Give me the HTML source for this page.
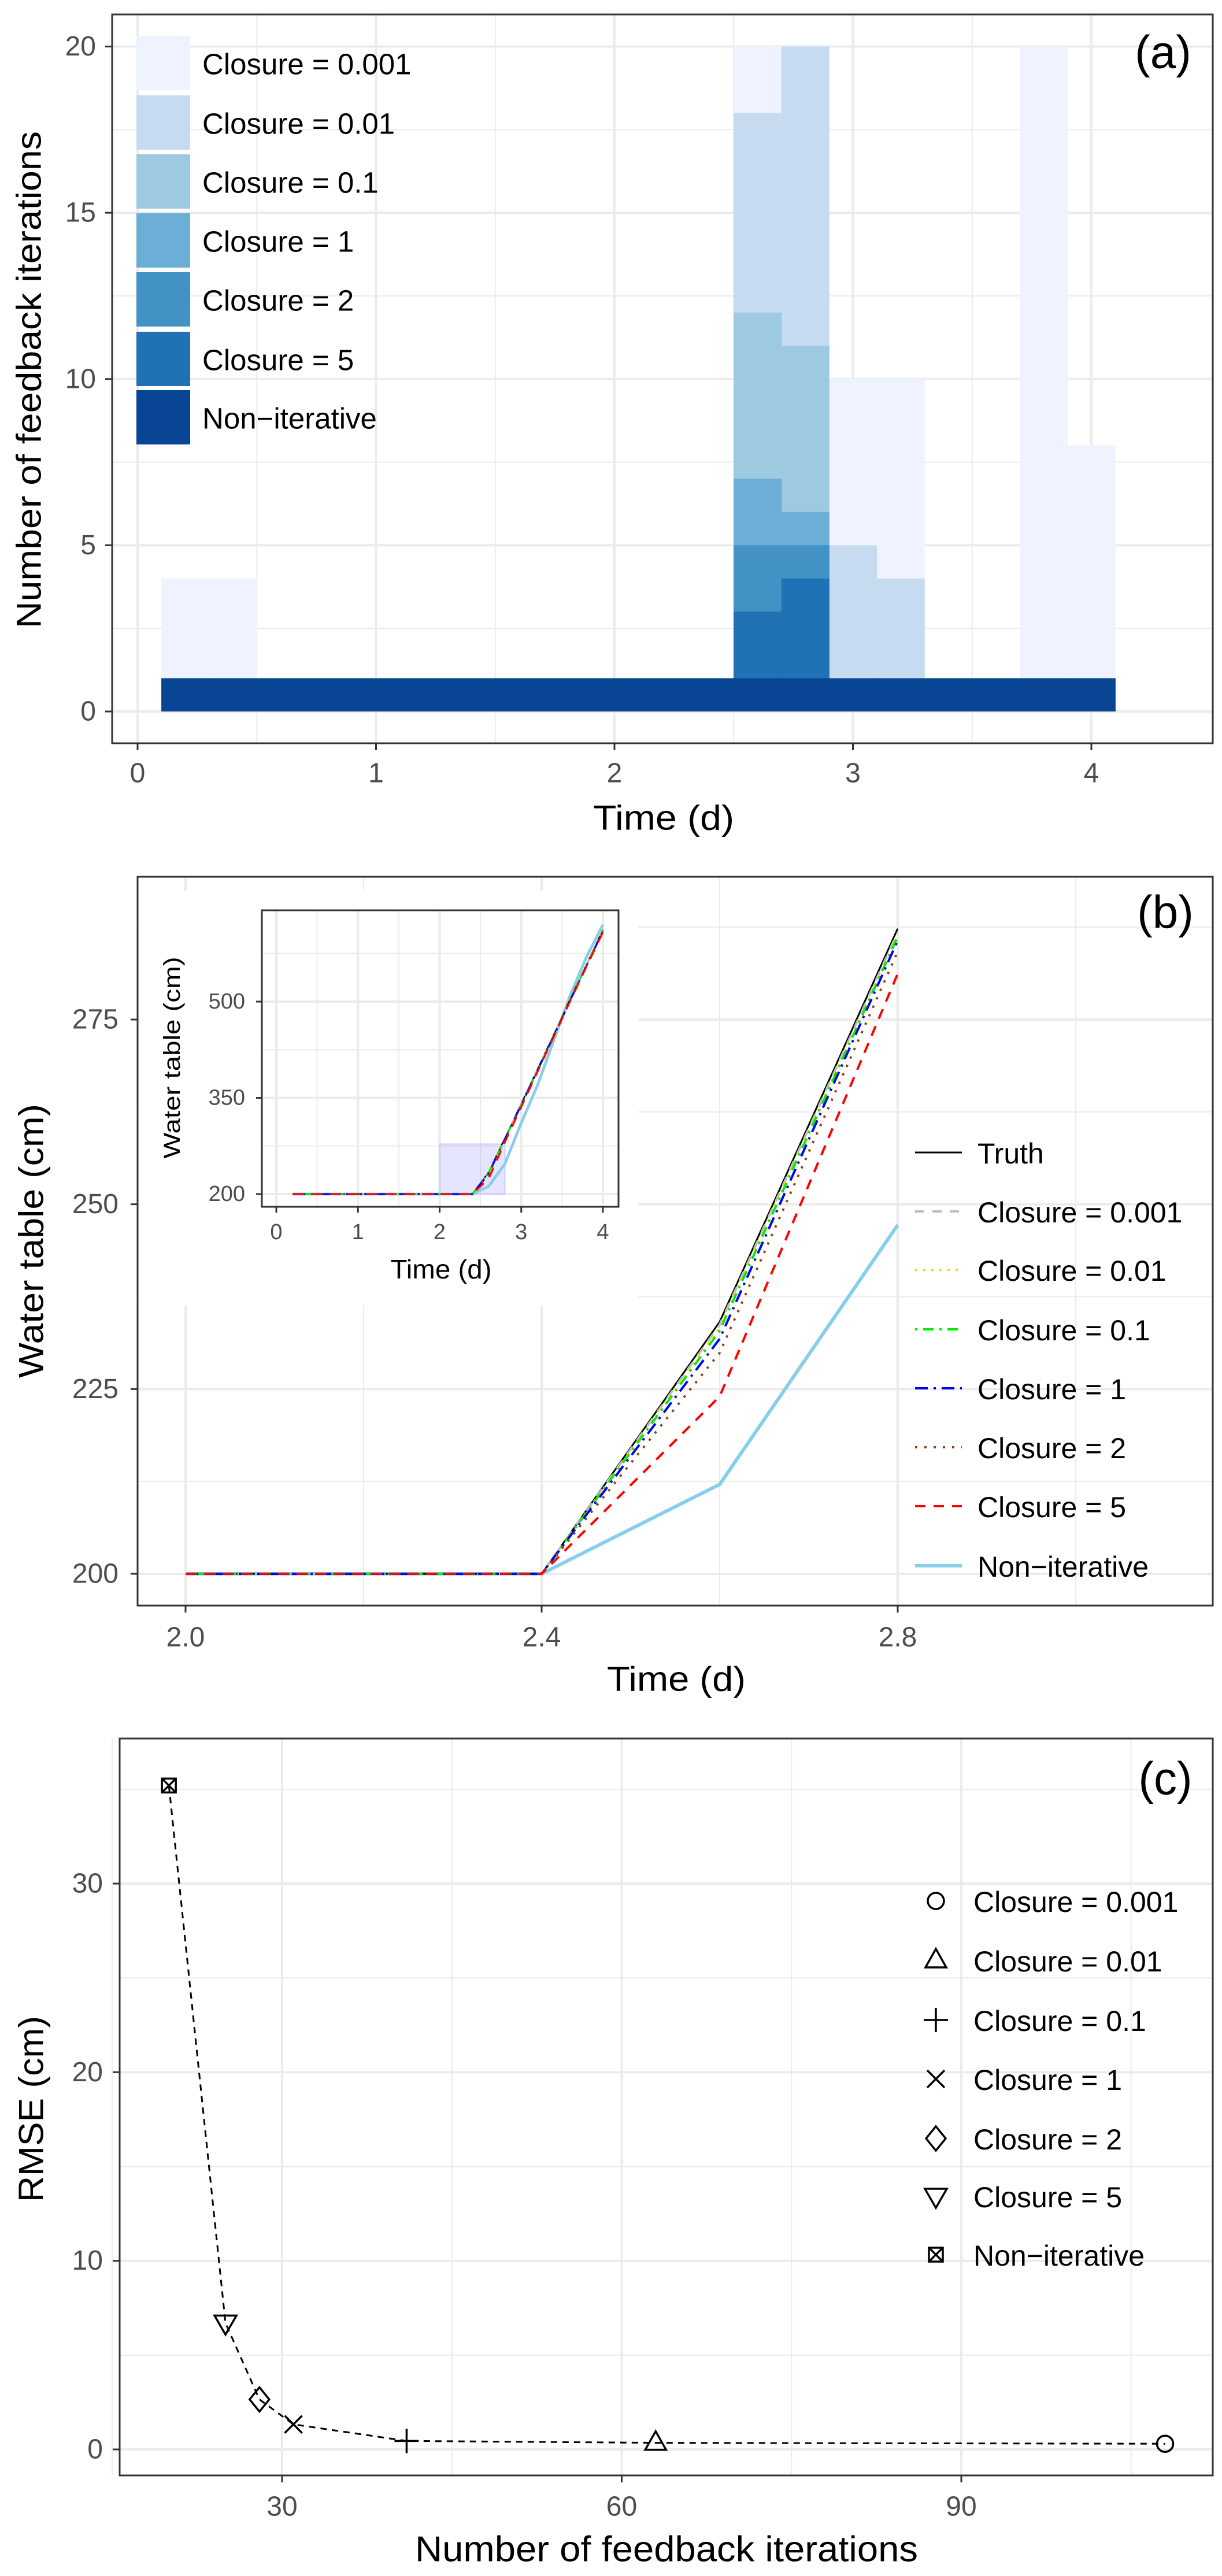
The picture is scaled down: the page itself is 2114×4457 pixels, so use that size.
<!DOCTYPE html>
<html><head><meta charset="utf-8">
<style>
html,body{margin:0;padding:0;background:#fff;}
svg{display:block;font-family:"Liberation Sans",Arial,sans-serif;}
</style></head>
<body>
<svg id="fig" width="2114" height="4457" viewBox="0 0 2114 4457" xmlns="http://www.w3.org/2000/svg"></svg>
<script>
// ---------- Panel (a) data ----------
const binCenters = [0.2,0.4,0.6,0.8,1.0,1.2,1.4,1.6,1.8,2.0,2.2,2.4,2.6,2.8,3.0,3.2,3.4,3.6,3.8,4.0];
const itersC0001 = [4,4,1,1,1,1,1,1,1,1,1,1,20,20,10,10,1,1,20,8];
const itersC001  = [1,1,1,1,1,1,1,1,1,1,1,1,18,20,5,4,1,1,1,1];
const itersC01   = [1,1,1,1,1,1,1,1,1,1,1,1,12,11,1,1,1,1,1,1];
const itersC1    = [1,1,1,1,1,1,1,1,1,1,1,1,7,6,1,1,1,1,1,1];
const itersC2    = [1,1,1,1,1,1,1,1,1,1,1,1,5,5,1,1,1,1,1,1];
const itersC5    = [1,1,1,1,1,1,1,1,1,1,1,1,3,4,1,1,1,1,1,1];
const itersNon   = [1,1,1,1,1,1,1,1,1,1,1,1,1,1,1,1,1,1,1,1];
const aXTicks = [0,1,2,3,4];
const aYTicks = [0,5,10,15,20];
const legendLabels = ["Closure = 0.001","Closure = 0.01","Closure = 0.1","Closure = 1","Closure = 2","Closure = 5","Non\u2212iterative"];

// ---------- Panel (b) data ----------
const times = [0.2,0.4,0.6,0.8,1.0,1.2,1.4,1.6,1.8,2.0,2.2,2.4,2.6,2.8,3.0,3.2,3.4,3.6,3.8,4.0];
const wtTruth = [200,200,200,200,200,200,200,200,200,200,200,200,234.1,287.3,341,395,449,504,558,612];
const wtC0001 = [200,200,200,200,200,200,200,200,200,200,200,200,233.7,286.8,340,394,448,503,557,611];
const wtC001  = [200,200,200,200,200,200,200,200,200,200,200,200,233.3,286.4,340,394,448,503,557,611];
const wtC01   = [200,200,200,200,200,200,200,200,200,200,200,200,232.9,286.2,339,393,448,503,557,610];
const wtC1    = [200,200,200,200,200,200,200,200,200,200,200,200,231.8,285.7,339,393,447,502,556,610];
const wtC2    = [200,200,200,200,200,200,200,200,200,200,200,200,229.9,284.2,338,392,447,502,556,609];
const wtC5    = [200,200,200,200,200,200,200,200,200,200,200,200,224.0,281.2,336,391,446,501,555,608];
const wtNon   = [200,200,200,200,200,200,200,200,200,200,200,200,212.1,247.2,311,370,440,510,570,620];
const bXTicks = [2.0,2.4,2.8];
const bYTicks = [200,225,250,275];
const insetXTicks = [0,1,2,3,4];
const insetYTicks = [200,350,500];

// ---------- Panel (c) data ----------
const rmseIters = [108,63,41,31,28,25,20];
const rmseVals  = [0.3,0.35,0.45,1.33,2.65,6.7,35.2];
const cXTicks = [30,60,90];
const cYTicks = [0,10,20,30];

const NS="http://www.w3.org/2000/svg";
const svg=document.getElementById('fig');
function mk(tag,attrs,parent){const e=document.createElementNS(NS,tag);for(const k in attrs)e.setAttribute(k,attrs[k]);(parent||svg).appendChild(e);return e;}
function nm(e,name){
  
  
}
function txt(s,attrs,parent){const e=mk('text',attrs,parent);e.textContent=s;return e;}
function scale(d0,d1,r0,r1){return v=>r0+(v-d0)/(d1-d0)*(r1-r0);}

function panel(P,name){
  const g=mk('g',{});nm(g,name);
  mk('rect',{x:P.l,y:P.t,width:P.r-P.l,height:P.b-P.t,fill:'#fff'},g);
  return g;
}
function grid(g,P,sx,sy,xMaj,xMin,yMaj,yMin){
  const gg=mk('g',{},g);nm(gg,'grid');
  yMin.forEach(v=>mk('line',{x1:P.l,x2:P.r,y1:sy(v),y2:sy(v),stroke:'#ebebeb','stroke-width':2},gg));
  xMin.forEach(v=>mk('line',{y1:P.t,y2:P.b,x1:sx(v),x2:sx(v),stroke:'#ebebeb','stroke-width':2},gg));
  yMaj.forEach(v=>mk('line',{x1:P.l,x2:P.r,y1:sy(v),y2:sy(v),stroke:'#ebebeb','stroke-width':4},gg));
  xMaj.forEach(v=>mk('line',{y1:P.t,y2:P.b,x1:sx(v),x2:sx(v),stroke:'#ebebeb','stroke-width':4},gg));
}
function axes(g,P,sx,sy,xt,yt,fmtX,fmtY,fs,tl,xLabY,yLabX){
  const ax=mk('g',{},g);nm(ax,'x-axis');
  xt.forEach(v=>{mk('line',{x1:sx(v),x2:sx(v),y1:P.b,y2:P.b+tl,stroke:'#333','stroke-width':3},ax);
    const t=txt(fmtX(v),{x:sx(v),y:xLabY,'font-size':fs,fill:'#4d4d4d','text-anchor':'middle','dominant-baseline':'central'},ax);nm(t,'x-tick-label');});
  const ay=mk('g',{},g);nm(ay,'y-axis');
  yt.forEach(v=>{mk('line',{x1:P.l-tl,x2:P.l,y1:sy(v),y2:sy(v),stroke:'#333','stroke-width':3},ay);
    const t=txt(fmtY(v),{x:yLabX,y:sy(v),'font-size':fs,fill:'#4d4d4d','text-anchor':'end','dominant-baseline':'central'},ay);nm(t,'y-tick-label');});
}
function border(g,P,w){const b=mk('rect',{x:P.l,y:P.t,width:P.r-P.l,height:P.b-P.t,fill:'none',stroke:'#333','stroke-width':w||3},g);nm(b,'panel-border');}
function title(s,x,y,len,fs,rot,parent,name){
  const a={x:0,y:0,'font-size':fs,'text-anchor':'middle','dominant-baseline':'central',textLength:len,lengthAdjust:'spacingAndGlyphs',
    transform:`translate(${x},${y})`+(rot?' rotate(-90)':'')};
  const t=txt(s,a,parent);nm(t,name);return t;
}

// ================= Panel (a) =================
(function(){
  const P={l:194,r:2098,t:25,b:1286};
  const sx=scale(0,4,238,1888), sy=scale(0,20,1231,80.5);
  const g=panel(P,'panel-a');
  grid(g,P,sx,sy,[0,1,2,3,4],[0.5,1.5,2.5,3.5],[0,5,10,15,20],[2.5,7.5,12.5,17.5]);
  const series=[itersC0001,itersC001,itersC01,itersC1,itersC2,itersC5,itersNon];
  const colors=['#eff3ff','#c6dbef','#9ecae1','#6baed6','#4292c6','#2171b5','#084594'];
  const names=['closure-0001','closure-001','closure-01','closure-1','closure-2','closure-5','non-iterative'];
  series.forEach((s,i)=>{
    const sg=mk('g',{},g);nm(sg,'bars-'+names[i]);
    s.forEach((v,j)=>{
      const x0=sx(binCenters[j]-0.1), x1=sx(binCenters[j]+0.1);
      const r=mk('rect',{x:x0,y:sy(v),width:x1-x0+0.5,height:sy(0)-sy(v),fill:colors[i]},sg);
      nm(r,'bar');
    });
  });
  border(g,P);
  axes(g,P,sx,sy,aXTicks,aYTicks,v=>String(v),v=>String(v),48,12,1338,166);
  title('Time (d)',1148,1415,244,60,false,g,'x-axis-title');
  title('Number of feedback iterations',50,657,860,60,true,g,'y-axis-title');
  const pl=txt('(a)',{x:2012,y:90,'font-size':80,'text-anchor':'middle','dominant-baseline':'central'},g);nm(pl,'panel-label');
  const lg=mk('g',{},g);nm(lg,'legend');
  const tops=[62,165,267,369,471,574,675];
  legendLabels.forEach((s,i)=>{
    const k=mk('rect',{x:236,y:tops[i],width:93,height:94,fill:colors[i]},lg);nm(k,'legend-key');
    const t=txt(s,{x:350,y:tops[i]+49,'font-size':51,'dominant-baseline':'central'},lg);nm(t,'legend-entry');
  });
})();

// ================= Panel (b) =================
(function(){
  const P={l:238,r:2098,t:1517,b:2778};
  const sx=scale(2.0,2.8,321,1553), sy=scale(200,275,2723,1764);
  const g=panel(P,'panel-b');
  grid(g,P,sx,sy,[2.0,2.4,2.8],[2.2,2.6,3.0],[200,225,250,275],[212.5,237.5,262.5,287.5]);
  const styles=[
    {c:'#000',w:3,d:''},{c:'#bebebe',w:4,d:'16,14'},{c:'#ffd700',w:4,d:'4,10'},
    {c:'#00ee00',w:4,d:'4,10,18,10'},{c:'#0000ff',w:4,d:'22,10,4,10'},{c:'#8b4513',w:4,d:'4,12'},
    {c:'#ff0000',w:4,d:'18,14'},{c:'#87ceeb',w:6,d:''}];
  const series=[wtTruth,wtC0001,wtC001,wtC01,wtC1,wtC2,wtC5,wtNon];
  const names=['truth','closure-0001','closure-001','closure-01','closure-1','closure-2','closure-5','non-iterative'];
  const order=[7,0,1,2,3,4,5,6];
  order.forEach(i=>{
    const pts=[];times.forEach((t,j)=>{if(t>=2.0-1e-9&&t<=2.8+1e-9)pts.push(sx(t)+','+sy(series[i][j]));});
    const p=mk('polyline',{points:pts.join(' '),fill:'none',stroke:styles[i].c,'stroke-width':styles[i].w,'stroke-dasharray':styles[i].d},g);
    nm(p,'line-'+names[i]);
  });
  border(g,P);
  axes(g,P,sx,sy,bXTicks,bYTicks,v=>v.toFixed(1),v=>String(v),48,12,2833,205);
  title('Time (d)',1170,2905,240,60,false,g,'x-axis-title');
  title('Water table (cm)',54,2147,474,60,true,g,'y-axis-title');
  const pl=txt('(b)',{x:2016,y:1578,'font-size':80,'text-anchor':'middle','dominant-baseline':'central'},g);nm(pl,'panel-label');
  const lg=mk('g',{},g);nm(lg,'legend');
  const ly=[1994,2096,2197,2300,2402,2504,2606,2709];
  names.forEach((n,i)=>{
    const k=mk('line',{x1:1583,x2:1664,y1:ly[i],y2:ly[i],stroke:styles[i].c,'stroke-width':styles[i].w,'stroke-dasharray':styles[i].d},lg);nm(k,'legend-key');
    const lab=i==0?'Truth':legendLabels[i-1];
    const t=txt(lab,{x:1691,y:ly[i]+2,'font-size':50,'dominant-baseline':'central'},lg);nm(t,'legend-entry');
  });
  // inset
  const ig=mk('g',{});nm(ig,'inset-plot');
  mk('rect',{x:241,y:1541,width:863,height:718,fill:'#fff'},ig);
  const Q={l:453,r:1070,t:1575,b:2088};
  const ix=scale(0,4,478,1043), iy=scale(200,500,2066,1733);
  mk('rect',{x:Q.l,y:Q.t,width:Q.r-Q.l,height:Q.b-Q.t,fill:'#fff'},ig);
  grid(ig,Q,ix,iy,[0,1,2,3,4],[0.5,1.5,2.5,3.5],[200,350,500],[275,425,575]);
  const zr=mk('rect',{x:ix(2.0),y:iy(278),width:ix(2.8)-ix(2.0),height:iy(200)-iy(278),fill:'#0000ff','fill-opacity':0.1,stroke:'#ccccff','stroke-width':2},ig);nm(zr,'zoom-region');
  order.forEach(i=>{
    const pts=times.map((t,j)=>ix(t)+','+iy(series[i][j])).join(' ');
    const p=mk('polyline',{points:pts,fill:'none',stroke:styles[i].c,'stroke-width':styles[i].w*0.8,'stroke-dasharray':styles[i].d},ig);
    nm(p,'inset-line-'+names[i]);
  });
  border(ig,Q);
  axes(ig,Q,ix,iy,insetXTicks,insetYTicks,v=>String(v),v=>String(v),38,10,2132,424);
  title('Time (d)',763,2196,175,46,false,ig,'inset-x-axis-title');
  title('Water table (cm)',298,1830,349,40,true,ig,'inset-y-axis-title');
})();

// ================= Panel (c) =================
(function(){
  const P={l:207,r:2098,t:3008,b:4283};
  const sx=scale(30,90,488,1663), sy=scale(0,30,4238,3259);
  const g=panel(P,'panel-c');
  grid(g,P,sx,sy,[30,60,90],[15,45,75,105],[0,10,20,30],[5,15,25,35]);
  const order=rmseIters.map((v,i)=>i).sort((a,b)=>rmseIters[a]-rmseIters[b]);
  const pts=order.map(i=>sx(rmseIters[i])+','+sy(rmseVals[i])).join(' ');
  const ln=mk('polyline',{points:pts,fill:'none',stroke:'#000','stroke-width':3,'stroke-dasharray':'11,9'},g);nm(ln,'rmse-line');
  function sym(k,x,y,parent){
    const a={fill:'none',stroke:'#000','stroke-width':3.5};
    const grp=mk('g',{},parent);
    if(k==0){mk('circle',Object.assign({cx:x,cy:y,r:14},a),grp);}
    else if(k==1){mk('polygon',Object.assign({points:`${x},${y-20} ${x-18},${y+12} ${x+18},${y+12}`},a),grp);}
    else if(k==2){mk('path',Object.assign({d:`M${x-21},${y}H${x+21}M${x},${y-21}V${y+21}`},a),grp);}
    else if(k==3){mk('path',Object.assign({d:`M${x-15},${y-15}L${x+15},${y+15}M${x-15},${y+15}L${x+15},${y-15}`},a),grp);}
    else if(k==4){mk('polygon',Object.assign({points:`${x},${y-21} ${x+17},${y} ${x},${y+21} ${x-17},${y}`},a),grp);}
    else if(k==5){mk('polygon',Object.assign({points:`${x},${y+20} ${x-19},${y-13} ${x+19},${y-13}`},a),grp);}
    else {mk('rect',Object.assign({x:x-12,y:y-12,width:24,height:24},a),grp);mk('path',Object.assign({d:`M${x-12},${y-12}L${x+12},${y+12}M${x-12},${y+12}L${x+12},${y-12}`},a),grp);}
    return grp;
  }
  const names=['closure-0001','closure-001','closure-01','closure-1','closure-2','closure-5','non-iterative'];
  rmseIters.forEach((v,i)=>{const p=sym(i,sx(v),sy(rmseVals[i]),g);nm(p,'point-'+names[i]);});
  border(g,P);
  axes(g,P,sx,sy,cXTicks,cYTicks,v=>String(v),v=>String(v),48,12,4337,178);
  title('Number of feedback iterations',1153,4411,870,62,false,g,'x-axis-title');
  title('RMSE (cm)',54,3649,322,60,true,g,'y-axis-title');
  const pl=txt('(c)',{x:2016,y:3077,'font-size':80,'text-anchor':'middle','dominant-baseline':'central'},g);nm(pl,'panel-label');
  const lg=mk('g',{},g);nm(lg,'legend');
  const ly=[3289,3392,3495,3597,3700,3800,3901];
  legendLabels.forEach((s,i)=>{
    const k=sym(i,1619,ly[i],lg);nm(k,'legend-key');
    const t=txt(s,{x:1684,y:ly[i]+2,'font-size':50,'dominant-baseline':'central'},lg);nm(t,'legend-entry');
  });
})();
</script>
</body></html>
